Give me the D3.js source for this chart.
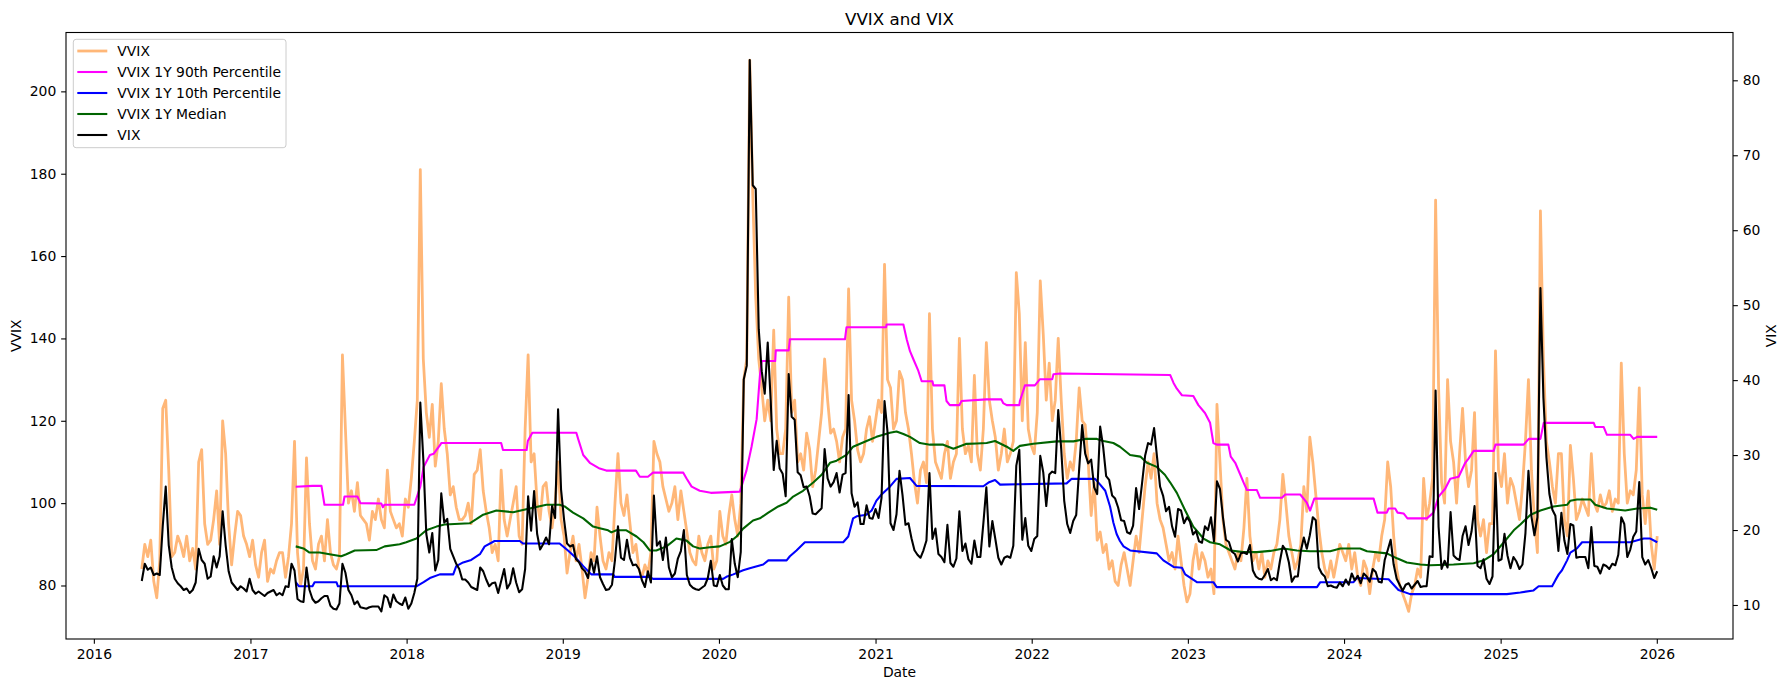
<!DOCTYPE html>
<html>
<head>
<meta charset="utf-8">
<script src="https://cdn.jsdelivr.net/npm/d3@7"></script>
<style>
  body { margin: 0; background: #fff; }
  text { font-family: "DejaVu Sans", sans-serif; }
</style>
</head>
<body>
<div id="chart"></div>
<script>
// weekly samples, first one on 2016-04-22
const firstWeek = Date.UTC(2016, 3, 22);

const vvix = [
  84,90,87,91,81,77,86,123,125,108,87,88,92,90,87,92,86,89,84,110,113,95,90,91,96,103,90,120,112,95,85,92,98,97,92,90,87,91,85,82,88,91,81,84,83,86,88,
  88,82,87,95,115,88,80,84,111,95,86,84,90,92,86,96,88,85,84,87,136,118,100,103,98,105,97,96,95,91,98,96,101,96,94,108,98,96,94,95,
  92,101,99,106,115,125,181,135,122,116,124,109,115,129,118,112,102,104,99,96,96,97,100,95,107,108,113,103,98,94,
  88,90,86,108,96,92,96,100,104,92,90,118,136,110,112,100,96,104,105,98,94,100,110,96,92,83,88,92,86,90,
  84,77,82,88,86,99,92,86,84,88,86,100,112,100,97,102,95,88,90,84,82,85,83,88,115,112,110,104,101,98,100,104,96,103,98,93,88,86,85,92,
  88,86,90,92,84,86,98,92,90,97,102,96,92,100,130,135,207.6,175,150,135,128,120,125,120,142,118,112,112,118,150,
  122,125,110,112,108,117,113,104,108,115,122,135,125,117,118,115,110,116,118,152,125,120,113,110,112,118,121,115,120,125,
  122,158,130,128,118,120,132,130,122,118,
  112,105,100,108,110,105,146,118,110,108,106,112,115,106,110,112,140,118,112,114,110,131,112,108,118,139,125,120,116,108,
  112,118,110,112,115,156,146,120,139,118,114,112,122,154,141,125,134,120,125,140,125,112,106,110,108,115,128,120,119,110,
  97,105,91,93,88,90,84,86,81,80,
  85,88,84,80,86,92,88,96,104,110,106,112,100,96,94,90,86,88,84,92,86,80,76,78,86,90,84,88,86,82,
  84,78,124,110,96,90,88,86,84,88,86,94,106,92,86,88,84,88,82,86,84,88,90,96,107,100,92,88,84,86,
  90,104,98,116,110,102,94,88,84,82,86,
  82,86,90,88,86,90,84,88,82,80,86,84,78,84,88,86,92,96,110,104,92,84,80,78,76,73.7,78,80,84,82,
  106,96,100,106,173.6,128,105,100,130,115,110,100,112,123,110,104,108,122,96,92,96,88,95,95,137,108,104,112,100,106,
  104,100,96,104,115,130,108,96,88,
  171,135,115,110,104,100,112,112,96,92,114,106,96,98,101,99,97,112,100,98,102,99,100,103,98,101,100,134,112,100,
  103,102,108,128,102,95,103,90,84,92
];

const vix = [
  13.2,15.5,14.7,15.0,14.0,14.2,14.0,20.5,25.8,18.0,15.0,13.5,12.9,12.5,12.0,12.2,11.6,12.0,13.0,17.5,
  16.0,15.5,13.5,13.8,16.5,15.0,16.5,22.5,18.0,14.5,13.0,12.5,12.0,12.5,12.2,11.8,13.5,12.0,11.5,11.8,11.5,11.2,11.6,11.8,12.0,11.3,11.6,
  11.3,12.5,12.4,15.5,14.6,10.8,10.5,10.4,15.0,12.0,10.8,10.3,10.5,10.9,11.2,11.2,9.9,9.5,9.4,10.2,
  15.5,14.3,12.0,11.3,10.1,10.5,9.7,9.6,9.5,9.7,9.8,9.8,9.8,9.14,11.3,11.0,9.7,11.4,10.5,10.2,
  10.0,11.0,9.5,10.2,11.6,13.5,37.0,29.5,19.5,17.0,19.6,14.6,16.0,24.9,21.0,21.5,17.5,16.5,15.5,14.8,
  13.4,13.4,13.0,12.4,12.2,12.0,15.0,14.5,13.4,12.5,
  12.9,13.0,11.6,13.2,14.8,12.2,12.9,14.9,13.0,11.7,12.1,14.8,24.5,19.9,25.2,19.5,17.4,18.1,19.0,18.1,
  23.2,21.6,36.1,25.4,21.4,18.2,17.8,18.0,16.1,15.7,14.9,14.5,13.6,16.1,14.3,16.5,13.7,12.8,12.0,12.1,
  12.7,16.0,20.5,16.3,16.0,18.7,16.3,15.3,15.4,14.8,13.3,12.4,14.5,13.0,24.6,17.9,18.5,16.0,19.0,15.0,
  13.7,14.2,16.2,17.2,20.0,14.0,12.7,12.3,12.1,12.0,
  12.3,12.6,13.6,15.9,12.6,12.5,14.0,12.6,12.1,12.1,18.8,15.5,13.7,17.1,40.1,41.9,82.7,66.0,65.5,46.8,
  41.2,38.2,45.0,37.2,28.0,31.9,28.2,27.5,24.5,40.8,35.1,34.7,27.7,27.3,25.7,25.8,24.5,22.2,22.1,22.5,
  22.9,30.8,26.9,25.8,26.4,27.6,25.0,27.4,27.6,38.0,24.9,23.1,23.7,20.8,20.8,23.3,21.6,21.5,22.8,21.6,
  24.3,37.2,33.1,20.9,20.0,22.1,27.9,24.7,20.7,20.9,
  18.9,17.3,16.7,16.3,17.3,18.6,27.6,18.8,20.2,16.8,16.4,15.7,20.7,15.6,15.1,16.2,22.5,17.2,18.2,16.1,
  15.5,18.6,16.4,16.4,20.9,25.7,17.8,21.2,18.8,16.3,15.4,16.3,16.5,16.3,17.9,28.6,30.7,18.7,21.6,17.9,
  17.2,18.8,19.2,29.9,27.7,23.2,27.4,27.8,27.6,36.0,30.8,23.9,20.8,19.6,21.2,22.0,28.2,34.0,30.2,28.9,
  29.4,25.7,24.8,33.8,31.1,27.2,26.7,24.6,24.2,23.0,
  21.3,21.2,19.7,19.5,20.6,25.6,22.8,26.3,29.9,31.6,31.4,33.6,29.7,25.8,24.6,22.5,23.1,20.5,19.1,22.8,
  22.6,20.9,21.7,21.1,19.4,19.9,18.5,18.3,20.5,20.0,21.7,18.5,26.5,25.5,21.7,18.7,18.4,17.1,16.8,15.8,
  16.9,17.0,16.8,18.0,14.6,13.8,13.5,13.4,14.0,14.8,13.3,13.6,13.3,15.8,17.9,17.3,15.7,13.1,13.8,13.8,
  17.2,19.0,17.5,19.3,21.7,21.3,15.0,14.2,13.8,12.5,12.6,
  12.4,12.3,13.0,12.5,13.4,12.7,14.2,13.3,13.9,12.9,14.2,13.8,13.1,14.8,14.4,13.1,13.0,16.0,17.3,18.7,
  15.4,13.5,12.7,11.9,12.7,12.9,12.2,12.7,13.2,12.4,12.5,12.5,16.5,16.4,38.6,20.4,14.8,15.9,15.0,22.4,
  16.6,16.2,16.0,19.2,20.5,18.0,19.8,23.2,15.2,14.9,16.1,13.5,12.8,13.8,27.6,15.9,16.1,19.5,16.6,14.9,
  16.4,15.8,14.8,15.4,19.6,27.9,21.8,19.3,21.7,
  52.3,37.6,29.7,24.8,22.7,21.9,17.2,22.3,18.6,16.8,20.8,20.6,16.3,16.4,16.4,16.4,14.9,20.4,15.2,15.1,
  14.2,15.4,15.2,14.8,15.5,15.3,16.7,21.7,20.8,16.4,17.4,19.1,19.8,26.4,16.4,15.4,16.0,14.9,13.6,14.5
];

// rolling 1Y stats: [weeks since firstWeek, value]
const vvixP90 = [
  [51.4,104.0],[57,104.2],[60,104.2],[61,99.6],[67.2,99.6],[67.7,101.6],[72,101.6],[73,100.0],[80,99.9],[80.5,99.0],
  [81,99.6],[91,99.6],[91.9,101.6],[93,104],[94.1,108.8],[96.2,111.7],[97.5,112],[99.7,114.2],[100,114.6],[120,114.6],
  [120.6,112.9],[128.5,112.9],[128.9,115.1],[130.4,117.1],[145.1,117.1],[145.7,115.6],[147.4,111.7],[149.6,109.8],
  [152.9,108.4],[155.1,107.9],[165,107.9],[166.3,106.4],[169,106.4],[170.7,107.4],[180.8,107.4],[181.9,106],[183.6,104],
  [186.3,103],[190,102.5],[199.7,102.8],[201.9,107.9],[203.6,113.7],[205.3,120.4],[206.4,131.1],[207,134.5],[211.5,134.5],
  [211.7,137.1],[216,137.1],[216.4,139.8],[234.8,139.8],[235.3,142.7],[248.5,142.7],[248.7,143.4],[254.3,143.4],
  [255.4,139.8],[256.5,136.9],[257.6,135],[259.3,132.1],[260.4,129.6],[264,129.6],[264.3,128.6],[268,128.6],[268.7,124.8],
  [269.8,123.8],[273,123.8],[273.7,124.8],[282,125.2],[287,125.2],[287.6,124.3],[288.8,123.8],[293,123.8],[293.2,124.8],
  [294.9,128.6],[298.2,128.6],[299.9,130.1],[304,130.1],[304.4,131.3],[306.6,131.5],[343.4,131.1],[344.5,129.2],
  [345.6,127.8],[347.3,126.2],[351.1,126.0],[352.8,123.8],[355,121.9],[356.7,119.5],[357.8,114.6],[358.9,114.2],
  [362.8,114.2],[363.6,111.3],[365.1,109.8],[366.8,106.9],[367.9,105],[369,103.2],[372.3,103.2],[373.4,101.3],
  [380.7,101.3],[381.8,102.1],[386.8,102.1],[389,100.1],[390.1,98.2],[391.5,101.1],[411.3,101.1],[412.6,97.7],
  [415.7,97.7],[416.3,98.7],[418.5,98.7],[419.3,97.7],[421.3,97.5],[422.6,96.3],[429.1,96.3],[431.3,97.7],[433,101.6],
  [435.2,103.5],[436.9,105.9],[439.7,106.4],[441.9,109.8],[443,110.8],[444.7,112.7],[451.4,112.7],[452,114.2],
  [461.4,114.2],[463.1,115.6],[467,115.6],[468.1,119.5],[484.8,119.5],[485.3,118.5],[488.1,118.5],[489.2,116.6],
  [497,116.6],[498.1,115.6],[499.3,116.1],[506,116.1]
];

const vvixP10 = [
  [51.4,80.8],[52.5,79.8],[57,79.8],[57.7,80.8],[65,80.8],[65.5,79.8],[91.7,79.8],[94.1,80.8],[96.2,81.8],[99.5,82.7],
  [104,82.7],[105,84.7],[107.3,85.6],[110,86.2],[112.9,87.6],[114.5,89.5],[117.8,90.8],[126.2,90.8],[127.3,90.2],
  [139.5,90.2],[142.3,88.5],[145.1,86.6],[147.4,84.7],[150.1,82.7],[157.4,82.7],[157.9,82.1],[169.6,82.1],[170.7,81.6],
  [194.1,81.6],[195.2,82.1],[197.5,82.7],[200.8,83.7],[203,84.2],[207.5,85.1],[209.2,86.1],[215.3,86.1],[216.4,87.1],
  [218.6,88.5],[221.4,90.5],[234.2,90.5],[235.9,91.9],[237.5,96.3],[238.7,96.8],[242,97.2],[243.7,98.2],[245.3,100.6],
  [247,102.1],[249.8,104],[252,105.9],[256.5,106.1],[258.7,104.2],[281,104.1],[282.7,105],[284.9,105.6],[286.6,104.5],
  [293.2,104.6],[308.8,104.8],[310.5,105.9],[318.3,105.9],[320,104.5],[321.7,103.0],[323.3,99.2],[324.4,95.3],
  [325.5,92.5],[326.6,90.8],[327.8,89.5],[330,88.5],[338.9,87.8],[341.1,86.1],[344.5,84.5],[347.3,84.3],[348.4,82.7],
  [352.3,80.8],[357.8,80.8],[358.9,79.6],[392.4,79.6],[393.5,80.8],[404.6,80.8],[405.7,81.8],[416.3,81.5],[419.6,78.9],
  [423.5,77.9],[455.8,77.9],[460.3,78.3],[464.7,78.8],[466.4,79.8],[470.9,79.8],[472,81.3],[473.1,82.7],[474.2,83.7],
  [475.9,86.1],[477,88],[479.2,89],[480.9,90.5],[497,90.5],[501.5,91.4],[503.7,91.4],[506,90.5]
];

const vvixMedian = [
  [51.4,89.5],[54,89],[56,88],[59.4,88],[62.7,87.6],[66.6,87.1],[68.3,87.6],[71.1,88.5],[78.3,88.6],[81.1,89.5],
  [86.1,90],[88.3,90.5],[91.7,91.4],[95,93.4],[98.4,94.3],[101.1,94.8],[109.5,95.1],[111.7,96.1],[114,97.2],[118.4,98.2],
  [124,97.8],[129.5,98.7],[135.1,99.6],[139.5,99.6],[141.2,99.2],[144,97.7],[147.4,96.3],[150.7,94.3],[152.9,93.9],
  [155.7,93.4],[156.8,92.9],[158.5,93.4],[161.8,93.4],[165.2,91.9],[167.5,90.5],[169.6,88.5],[171.8,88.5],[175.2,89.5],
  [178.5,91.4],[181.9,90.9],[184.1,89.5],[186.3,89],[189.7,89.3],[193,89.5],[196.4,90.6],[198.6,91.9],[200.8,93.8],
  [204.1,95.8],[206.4,96.3],[209.2,97.7],[212.5,99.2],[215.3,100.1],[217.5,101.6],[220.8,103],[224.2,105],[227,106.9],
  [229.8,109.8],[232,110.3],[235.3,111.7],[237.5,113.7],[242,115.1],[245.3,116.1],[249.8,117.1],[252,117.4],
  [254.3,116.8],[256.5,116.1],[259.8,114.6],[263.2,114.2],[267.6,114.2],[271,113.2],[275.4,114.4],[278.8,114.5],
  [282.1,114.6],[284.9,115.1],[288.8,113.7],[291,112.7],[293.2,113.9],[297.7,114.4],[305.5,115],[311.1,115],
  [315,115.6],[318.9,115.6],[321.1,115.1],[324.4,114.6],[326.6,113.7],[330,111.7],[333.4,111.3],[335.6,109.8],
  [338.9,108.8],[341.6,106.9],[343.4,105],[345.6,102.5],[348.4,98.2],[351.1,94.3],[354.5,91.4],[356.7,90.5],[360,90],
  [363.6,88.5],[367.9,88.1],[372.3,88.1],[376.8,88.4],[381.2,89],[385.7,88.5],[390.1,88.3],[396.8,88.3],[400.2,89],
  [406.8,89],[409.1,88.3],[415.7,87.8],[419.1,86.6],[422.4,85.6],[426.9,85.1],[430.2,84.9],[438,85.1],[444.7,85.4],
  [448.1,86.1],[451.4,87.6],[454.8,90.5],[458.1,93.4],[460.3,94.8],[463.7,97.2],[467,98.2],[471.4,99.2],[475.9,99.6],
  [477,100.6],[479.2,100.9],[483.7,100.9],[485.3,99.6],[489.2,98.7],[495.3,98.2],[499.3,98.7],[503.7,98.9],[506,98.4]
];

const yearTicks = [2016,2017,2018,2019,2020,2021,2022,2023,2024,2025,2026];
const vvixTicks = [80,100,120,140,160,180,200];
const vixTicks = [10,20,30,40,50,60,70,80];

const W = 1790, H = 690;
const box = {left: 66, right: 1733, top: 32.5, bottom: 639};
const fs = 13.9;   // 10pt
const tick = 4.86; // 3.5pt

const weekDate = w => new Date(firstWeek + w * 7 * 864e5);
const pad5 = ([a, b]) => [a - (b - a) * 0.05, b + (b - a) * 0.05];

const vvixPts = vvix.map((v, i) => [weekDate(i), v]);
const vixPts = vix.map((v, i) => [weekDate(i), v]);
const statPts = arr => arr.map(([w, v]) => [weekDate(w), v]);

const x = d3.scaleUtc()
  .domain(pad5(d3.extent(vvixPts, d => +d[0])))
  .range([box.left, box.right]);
const yL = d3.scaleLinear()
  .domain(pad5(d3.extent([...vvix, ...vvixP90.map(d => d[1]), ...vvixP10.map(d => d[1])])))
  .range([box.bottom, box.top]);
const yR = d3.scaleLinear()
  .domain(pad5(d3.extent(vix)))
  .range([box.bottom, box.top]);

const svg = d3.select("#chart").append("svg")
  .attr("width", W).attr("height", H)
  .style("font-size", fs + "px");

svg.append("rect").attr("width", W).attr("height", H).attr("fill", "#fff");

const lineL = d3.line().x(d => x(d[0])).y(d => yL(d[1]));
const lineR = d3.line().x(d => x(d[0])).y(d => yR(d[1]));

const series = [
  {name: "VVIX", pts: vvixPts, gen: lineL, color: "#ffb778", width: 2.78},
  {name: "VVIX 1Y 90th Percentile", pts: statPts(vvixP90), gen: lineL, color: "#ff00ff", width: 2.08},
  {name: "VVIX 1Y 10th Percentile", pts: statPts(vvixP10), gen: lineL, color: "#0000ff", width: 2.08},
  {name: "VVIX 1Y Median", pts: statPts(vvixMedian), gen: lineL, color: "#006400", width: 2.08},
  {name: "VIX", pts: vixPts, gen: lineR, color: "#000000", width: 2.08}
];

series.forEach(s => {
  svg.append("path")
    .attr("d", s.gen(s.pts))
    .attr("fill", "none")
    .attr("stroke", s.color)
    .attr("stroke-width", s.width)
    .attr("stroke-linejoin", "round");
});

// frame
svg.append("rect")
  .attr("x", box.left).attr("y", box.top)
  .attr("width", box.right - box.left).attr("height", box.bottom - box.top)
  .attr("fill", "none").attr("stroke", "#000").attr("stroke-width", 1.1);

const styleAxis = g => {
  g.select(".domain").remove();
  g.selectAll(".tick line").attr("stroke", "#000").attr("stroke-width", 1.1);
  g.selectAll(".tick text").attr("fill", "#000").style("font-size", fs + "px")
    .style("font-family", '"DejaVu Sans", sans-serif');
};

svg.append("g")
  .attr("transform", `translate(0,${box.bottom})`)
  .call(d3.axisBottom(x)
    .tickValues(yearTicks.map(yr => new Date(Date.UTC(yr, 0, 1))))
    .tickFormat(d3.utcFormat("%Y"))
    .tickSize(tick).tickPadding(tick))
  .call(styleAxis);

svg.append("g")
  .attr("transform", `translate(${box.left},0)`)
  .call(d3.axisLeft(yL).tickValues(vvixTicks).tickSize(tick).tickPadding(tick))
  .call(styleAxis);

svg.append("g")
  .attr("transform", `translate(${box.right},0)`)
  .call(d3.axisRight(yR).tickValues(vixTicks).tickSize(tick).tickPadding(tick))
  .call(styleAxis);

// labels
const midY = (box.top + box.bottom) / 2;
svg.append("text").attr("x", (box.left + box.right) / 2).attr("y", 24.5)
  .attr("text-anchor", "middle").style("font-size", "16.7px").text("VVIX and VIX");
svg.append("text").attr("x", (box.left + box.right) / 2).attr("y", 677)
  .attr("text-anchor", "middle").text("Date");
svg.append("text").attr("transform", `translate(21,${midY}) rotate(-90)`)
  .attr("text-anchor", "middle").text("VVIX");
svg.append("text").attr("transform", `translate(1776,${midY}) rotate(-90)`)
  .attr("text-anchor", "middle").text("VIX");

// legend
const lg = svg.append("g").attr("transform", "translate(73.3,39.3)");
lg.append("rect").attr("width", 212.7).attr("height", 108.4).attr("rx", 2.8)
  .attr("fill", "#fff").attr("fill-opacity", 0.8)
  .attr("stroke", "#cccccc").attr("stroke-width", 1);
series.forEach((s, k) => {
  const cy = 11.7 + k * 21;
  lg.append("line").attr("x1", 4).attr("x2", 34).attr("y1", cy).attr("y2", cy)
    .attr("stroke", s.color).attr("stroke-width", s.width);
  lg.append("text").attr("x", 44).attr("y", cy).attr("dy", "0.36em").text(s.name);
});
</script>
</body>
</html>
